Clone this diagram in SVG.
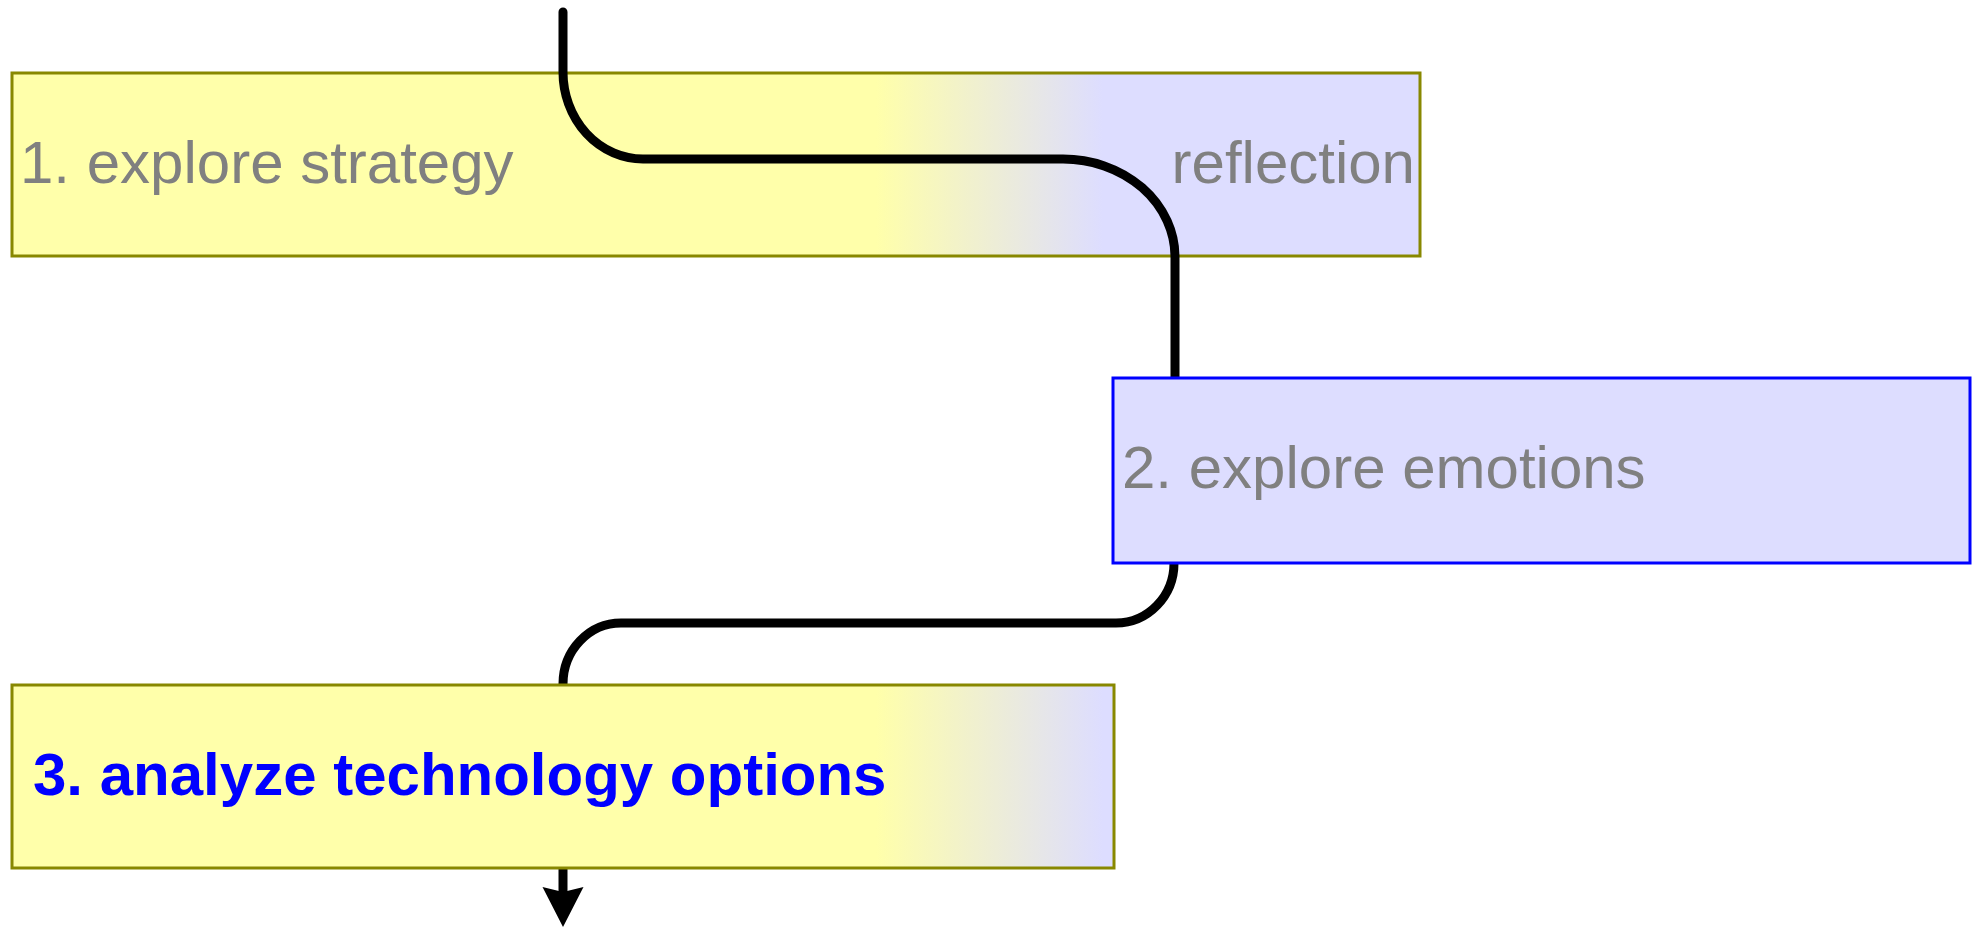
<svg xmlns="http://www.w3.org/2000/svg" width="1979" height="927" viewBox="0 0 1979 927">
  <style>
    .box { stroke-width: 3; }
    .olive { stroke: #888800; }
    .blue { stroke: #0000FF; }
    .lbl { font-family: "Liberation Sans", Arial, sans-serif; font-size: 60px; fill: #808080; }
    .lblb { font-family: "Liberation Sans", Arial, sans-serif; font-size: 60px; font-weight: bold; fill: #0000FF; }
    .conn { fill: none; stroke: #000000; stroke-width: 9; }
  </style>
  <defs>
    <linearGradient id="yl" gradientUnits="userSpaceOnUse" x1="876" y1="0" x2="1103" y2="0">
      <stop offset="0" stop-color="#FFFFAA"/>
      <stop offset="1" stop-color="#DDDDFF"/>
    </linearGradient>
    <marker id="arrow" viewBox="0 -21 40 42" markerWidth="40" markerHeight="42" markerUnits="userSpaceOnUse" refX="13" refY="0" orient="auto">
      <path d="M40,0 L0,-20.5 L5,0 L0,20.5 Z" fill="#000000"/>
    </marker>
  </defs>

  <g id="node-reflection">
    <rect class="box olive" x="12" y="73" width="1408" height="183" fill="url(#yl)"/>
    <text class="lbl" x="20" y="183">1. explore strategy</text>
    <text class="lbl" x="1415" y="183" text-anchor="end">reflection</text>
  </g>

  <g id="connectors">
    <path class="conn" stroke-linecap="round" d="M563,12 V72 A80,87 0 0 0 643,159 H1063 A112,98 0 0 1 1175,257 V378"/>
    <path class="conn" d="M1174,563 A58,60 0 0 1 1116,623 H621 A58,61 0 0 0 563,684 V685"/>
    <path class="conn" d="M563,868 V900" marker-end="url(#arrow)"/>
  </g>

  <g id="node-emotions">
    <rect class="box blue" x="1113" y="378" width="857" height="185" fill="#DDDDFF"/>
    <text class="lbl" x="1122" y="488">2. explore emotions</text>
  </g>

  <g id="node-technology">
    <rect class="box olive" x="12" y="685" width="1102" height="183" fill="url(#yl)"/>
    <text class="lblb" x="33" y="795">3. analyze technology options</text>
  </g>
</svg>
